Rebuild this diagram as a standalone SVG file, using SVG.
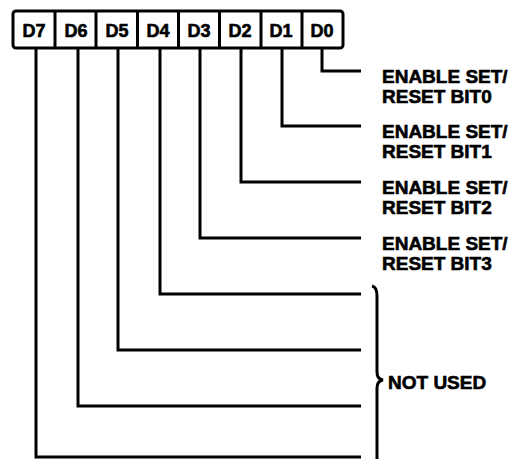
<svg xmlns="http://www.w3.org/2000/svg" width="514" height="459" viewBox="0 0 514 459">
<style>
.cell{fill:#fff;stroke:#000;stroke-width:3}
.bit{font-family:"Liberation Sans",Arial,sans-serif;font-weight:bold;font-size:18px;text-anchor:middle;fill:#000;stroke:#000;stroke-width:0.6}
.lbl{font-family:"Liberation Sans",Arial,sans-serif;font-weight:bold;font-size:19px;fill:#000;stroke:#000;stroke-width:0.6}
.wire{fill:none;stroke:#000;stroke-width:3;stroke-linejoin:miter}
</style>
<rect width="514" height="459" fill="#fff"/>
<g id="register">
<rect class="cell" x="13" y="11" width="330" height="37" rx="3"/>
<g id="d7"><text class="bit" x="34" y="37">D7</text></g>
<g id="d6"><line class="cell" x1="55" y1="11" x2="55" y2="48"/><text class="bit" x="76" y="37">D6</text></g>
<g id="d5"><line class="cell" x1="96" y1="11" x2="96" y2="48"/><text class="bit" x="117" y="37">D5</text></g>
<g id="d4"><line class="cell" x1="137.5" y1="11" x2="137.5" y2="48"/><text class="bit" x="158" y="37">D4</text></g>
<g id="d3"><line class="cell" x1="178.5" y1="11" x2="178.5" y2="48"/><text class="bit" x="199" y="37">D3</text></g>
<g id="d2"><line class="cell" x1="219.5" y1="11" x2="219.5" y2="48"/><text class="bit" x="240" y="37">D2</text></g>
<g id="d1"><line class="cell" x1="261" y1="11" x2="261" y2="48"/><text class="bit" x="281" y="37">D1</text></g>
<g id="d0"><line class="cell" x1="302" y1="11" x2="302" y2="48"/><text class="bit" x="322" y="37">D0</text></g>
</g>
<g id="connectors">
<path class="wire" d="M322,48 V71 H361"/>
<path class="wire" d="M282,48 V126 H361"/>
<path class="wire" d="M241,48 V182 H361"/>
<path class="wire" d="M200,48 V238 H361"/>
<path class="wire" d="M160,48 V294 H361"/>
<path class="wire" d="M118,48 V350 H361"/>
<path class="wire" d="M78,48 V406 H361"/>
<path class="wire" d="M36,48 V457 H361"/>
</g>
<g id="label-bit0"><text class="lbl" x="382" y="83">ENABLE SET/</text><text class="lbl" x="382" y="103">RESET BIT0</text></g>
<g id="label-bit1"><text class="lbl" x="382" y="138">ENABLE SET/</text><text class="lbl" x="382" y="158">RESET BIT1</text></g>
<g id="label-bit2"><text class="lbl" x="382" y="194">ENABLE SET/</text><text class="lbl" x="382" y="214">RESET BIT2</text></g>
<g id="label-bit3"><text class="lbl" x="382" y="250">ENABLE SET/</text><text class="lbl" x="382" y="270">RESET BIT3</text></g>
<g id="not-used">
<path class="wire" d="M372,286 Q377,287 377,296 L377,372 Q377,379 383,380 Q377,381 377,388 L377,460"/>
<text class="lbl" x="388" y="389">NOT USED</text>
</g>
</svg>
